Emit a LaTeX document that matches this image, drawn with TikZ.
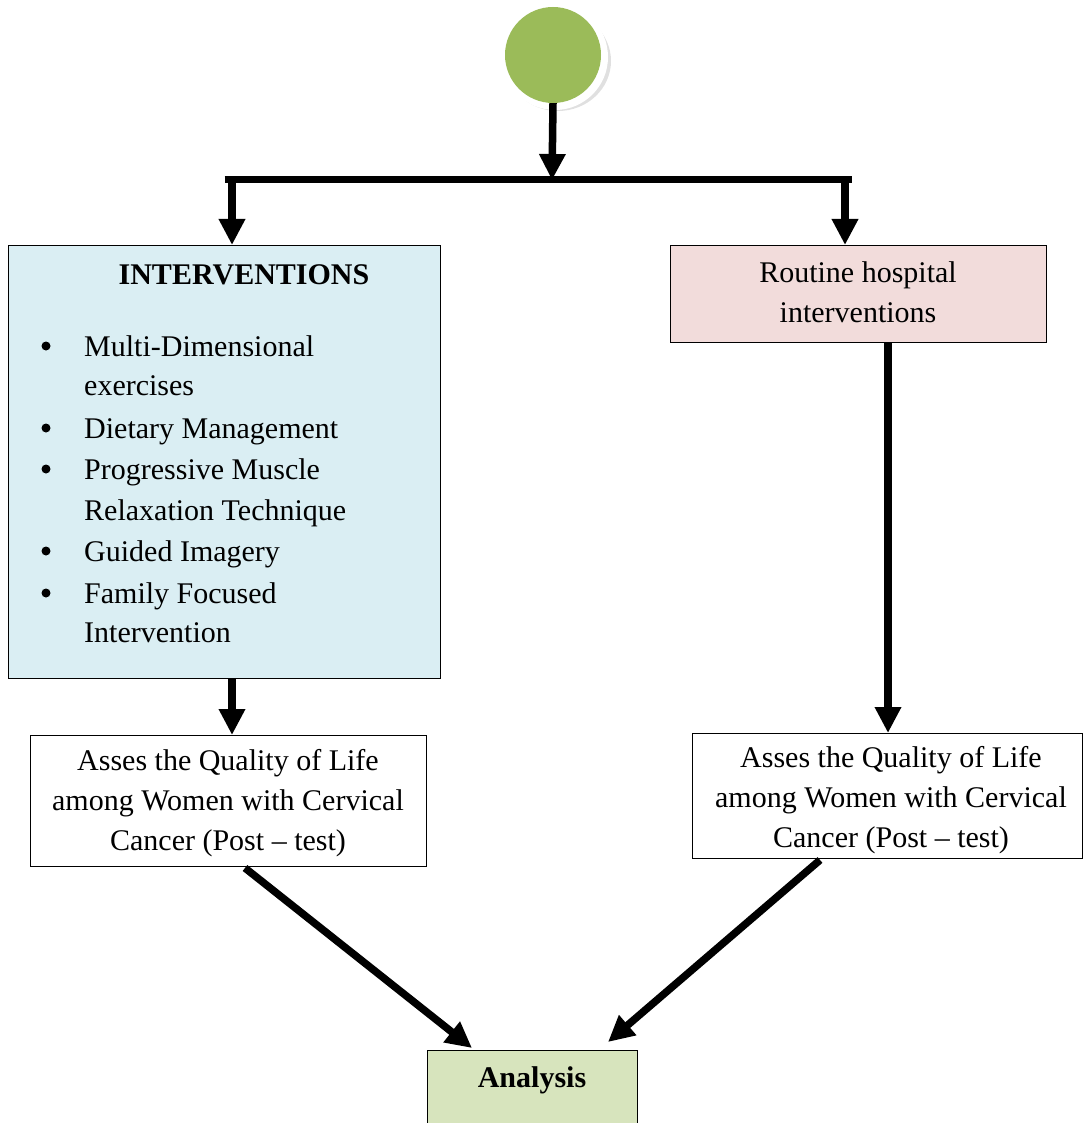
\documentclass[tikz,border=0pt]{standalone}
\usepackage{fontspec}
\setmainfont{Liberation Serif}
\usetikzlibrary{arrows.meta,shadows}
\definecolor{startgreen}{HTML}{9BBB59}
\definecolor{intblue}{HTML}{DAEEF3}
\definecolor{routpink}{HTML}{F2DCDB}
\definecolor{anagreen}{HTML}{D7E4BD}
\tikzset{
  flowarrow/.style={line width=7.5pt,-{Triangle[width=25pt,length=26pt]}},
  flowline/.style={line width=7pt},
  boxstyle/.style={draw=black,line width=1.3pt,inner sep=0pt},
  bodytext/.style={font=\fontsize{30}{40}\selectfont,align=center,inner sep=0pt},
  itemtext/.style={font=\fontsize{30}{40}\selectfont,anchor=base west,inner sep=0pt},
  bulletdot/.style={circle,fill=black,inner sep=0pt,minimum size=9pt}
}
\begin{document}
\begin{tikzpicture}[x=1pt,y=-1pt]
\useasboundingbox (0,0) rectangle (1083,1123);
% start circle
\fill[black!12] (558,61) ellipse (53 and 50);
\node[circle,fill=white,minimum width=106pt,minimum height=102pt,inner sep=0pt] (startrim) at (555,57) {};
\node[circle,fill=startgreen,minimum width=96pt,minimum height=92pt,inner sep=0pt] (start) at (553,55) {};
% junction
\coordinate (junc) at (552,180);
\coordinate (jl) at (228,180);
\coordinate (jr) at (848,180);
% boxes
\node[boxstyle,fill=intblue,minimum width=432pt,minimum height=433pt,anchor=north west] (inter) at (8,245) {};
\node[bodytext,font=\bfseries\fontsize{30}{40}\selectfont] (intertitle) at (244,275) {INTERVENTIONS};
\node[boxstyle,fill=routpink,minimum width=376pt,minimum height=97pt,anchor=north west] (rout) at (670,245) {};
\node[bodytext] (routtext) at (858,292) {Routine hospital\\interventions};
\node[boxstyle,fill=white,minimum width=396pt,minimum height=131pt,anchor=north west] (assl) at (30,735) {};
\node[bodytext] (assltext) at (228,803) {Asses the Quality of Life\\among Women with Cervical\\Cancer (Post -- test)};
\node[boxstyle,fill=white,minimum width=390pt,minimum height=125pt,anchor=north west] (assr) at (692,733) {};
\node[bodytext] (assrtext) at (891,800) {Asses the Quality of Life\\among Women with Cervical\\Cancer (Post -- test)};
\node[boxstyle,fill=anagreen,minimum width=210pt,minimum height=100pt,anchor=north west] (ana) at (427,1050) {};
\node[bodytext,font=\bfseries\fontsize{30}{40}\selectfont] (anatext) at (532,1080) {Analysis};
% bullet list
\foreach \i/\y/\t in {1/356/Multi-Dimensional, 2/395/exercises, 3/438/Dietary Management, 4/479/Progressive Muscle, 5/520/Relaxation Technique, 6/561/Guided Imagery, 7/603/Family Focused, 8/642/Intervention}{
  \node[itemtext] (item\i) at (84,\y) {\t};
}
\foreach \i/\y in {1/346,3/428,4/469,6/551,7/593}{
  \node[bulletdot] (dot\i) at (46,\y) {};
}
% connectors
\draw[flowarrow] (start.south) -- (junc);
\draw[flowline] ([xshift=-3.5pt]jl) -- ([xshift=3.5pt]jr);
\draw[flowarrow] ([xshift=4pt]jl) -- ([xshift=4pt]jl |- inter.north);
\draw[flowarrow] ([xshift=-3pt]jr) -- ([xshift=-3pt]jr |- rout.north);
\draw[flowarrow] (rout.south -| 888,0) -- (888,733);
\draw[flowarrow] (inter.south -| 232,0) -- (232,735);
\draw[flowarrow] (245,868) -- (472,1048);
\draw[flowarrow] (820,860) -- (608,1042);
\end{tikzpicture}
\end{document}
